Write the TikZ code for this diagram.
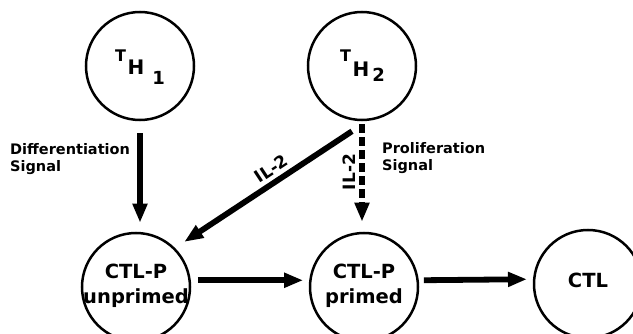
\documentclass[tikz,border=0pt]{standalone}
\usepackage{fontspec}
\setmainfont{DejaVu Sans}
\usetikzlibrary{arrows.meta}

% T with a large H and a lowered index digit: #1 raise of T, #2 gap before digit, #3 drop of digit, #4 digit
\newcommand\thname[4]{%
  \raisebox{#1}{\fontsize{16}{16}\selectfont T}\hspace{1.5pt}%
  {\fontsize{20}{20}\selectfont H}\hspace{#2}%
  \raisebox{-#3}{\fontsize{18}{18}\selectfont #4}}

\tikzset{
  cell/.style={circle, draw, line width=2.5pt, minimum size=108pt, inner sep=0pt},
  celltext/.style={font=\bfseries\fontsize{19.5}{25}\selectfont, align=center, inner sep=0pt},
  thtext/.style={font=\bfseries, inner sep=0pt},
  sig/.style={line width=5.8pt, -{Triangle[length=19pt,width=14pt]}},
  dashsig/.style={sig, dash pattern=on 9pt off 4pt},
  lbl/.style={font=\bfseries\fontsize{14.5}{17.5}\selectfont, align=left, inner sep=0pt},
  ilbl/.style={font=\bfseries\fontsize{17}{17}\selectfont, inner sep=4pt},
}

\begin{document}
\begin{tikzpicture}[x=1pt, y=-1pt]
\useasboundingbox (0,0) rectangle (633,334);
\clip (0,0) rectangle (633,334);

% helper cells
\node[cell] (th1) at (140,66) {};
\node[thtext] (th1t) at (140,67.5) {\thname{13pt}{8pt}{10pt}{1}};
\node[cell] (th2) at (362,66) {};
\node[thtext] (th2t) at (362.5,66) {\thname{15pt}{3pt}{5pt}{2}};

% CTL lineage
\node[cell] (ctlu) at (136,287) {};
\node[celltext] (ctlut) at (136,286) {CTL-P\\unprimed};
\node[cell] (ctlp) at (364,287) {};
\node[celltext] (ctlpt) at (364,286) {CTL-P\\primed};
\node[cell] (ctl) at (588,284) {};
\node[celltext] (ctlt) at (588,280.6) {CTL};

% signals
\draw[sig, shorten <=12pt, shorten >=9pt] (th1.south) -- (th1.south |- ctlu.north);
\draw[sig, shorten >=11pt] ([shift={(-10pt,-10pt)}]th2.south)
  -- node[ilbl, sloped, pos=0.415, anchor=south] (il2a) {IL-2} (ctlu.45);
\draw[dashsig, shorten <=3pt, shorten >=10pt] (th2.south)
  -- node[ilbl, rotate=90, pos=0.46, anchor=south] (il2b) {IL-2} (th2.south |- ctlp.north);

% maturation steps
\draw[sig, shorten <=7pt, shorten >=6pt] (ctlu.7) -- (ctlp.173);
\draw[sig, shorten <=5pt, shorten >=6pt] (ctlp.7) -- (ctl.175);

% signal captions
\node[lbl, anchor=north west] (diff) at (10,143) {Differentiation\\Signal};
\node[lbl, anchor=north west] (prolif) at (382,142) {Proliferation\\Signal};
\end{tikzpicture}
\end{document}
